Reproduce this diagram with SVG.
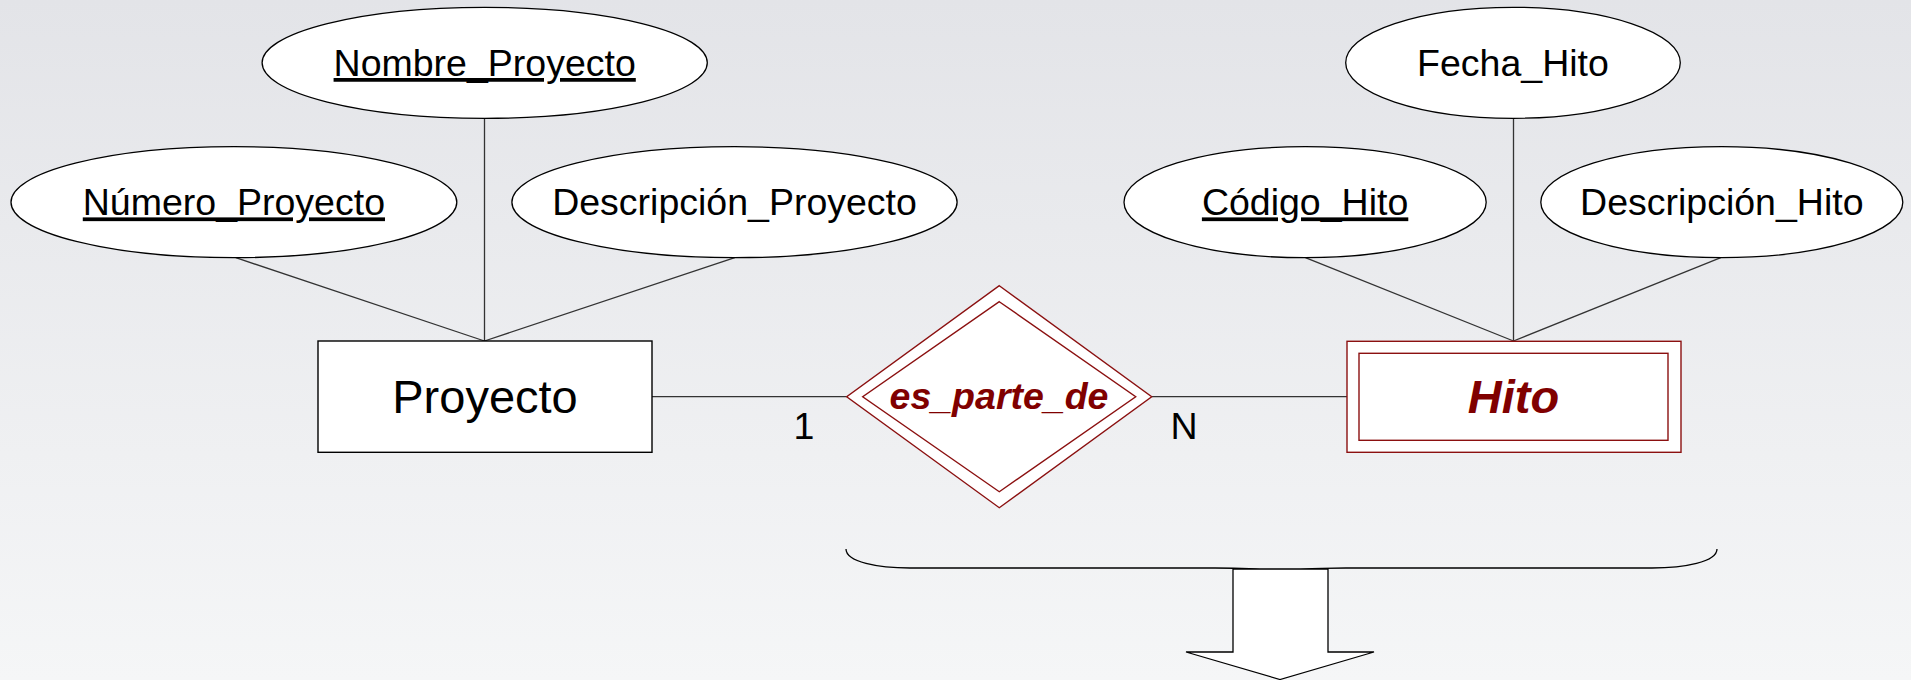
<svg xmlns="http://www.w3.org/2000/svg" width="1911" height="680" viewBox="0 0 1911 680">
<defs>
<linearGradient id="bg" x1="0" y1="0" x2="0" y2="1">
<stop offset="0" stop-color="#e3e4e8"/>
<stop offset="1" stop-color="#f5f6f7"/>
</linearGradient>
</defs>
<style>
.attr{fill:#fff;stroke:#000;stroke-width:1.3}
.t{font-family:"Liberation Sans",Arial,sans-serif;font-size:37.5px;fill:#000;text-anchor:middle}
.u{text-decoration:underline}
.ent{fill:#fff;stroke:#000;stroke-width:1.4}
.wk{fill:#fff;stroke:#8b1010;stroke-width:1.4}
.rt{font-family:"Liberation Sans",Arial,sans-serif;font-weight:bold;font-style:italic;fill:#800000;text-anchor:middle}
.ln{stroke:#333;stroke-width:1.3;fill:none}
</style>
<rect x="0" y="0" width="1911" height="680" fill="url(#bg)"/>
<g id="connectors">
<line class="ln" x1="235.8" y1="257.7" x2="484.5" y2="341"/>
<line class="ln" x1="484.5" y1="118.3" x2="484.5" y2="341"/>
<line class="ln" x1="734.8" y1="257.7" x2="484.5" y2="341"/>
<line class="ln" x1="1305.4" y1="257.7" x2="1513.5" y2="341"/>
<line class="ln" x1="1513.5" y1="118.3" x2="1513.5" y2="341"/>
<line class="ln" x1="1720.8" y1="257.7" x2="1513.5" y2="341"/>
<line class="ln" x1="652" y1="396.7" x2="846.7" y2="396.7"/>
<line class="ln" x1="1151.7" y1="396.7" x2="1347" y2="396.7"/>
</g>
<g id="nombre_proyecto">
<ellipse class="attr" cx="484.7" cy="62.8" rx="222.6" ry="55.5"/>
<text class="t u" x="484.7" y="76">Nombre_Proyecto</text>
</g>
<g id="numero_proyecto">
<ellipse class="attr" cx="233.9" cy="202.2" rx="222.9" ry="55.5"/>
<text class="t u" x="233.9" y="215.4">Número_Proyecto</text>
</g>
<g id="descripcion_proyecto">
<ellipse class="attr" cx="734.5" cy="202.2" rx="222.6" ry="55.5"/>
<text class="t" x="734.5" y="215.4">Descripción_Proyecto</text>
</g>
<g id="fecha_hito">
<ellipse class="attr" cx="1513" cy="62.8" rx="167.3" ry="55.5"/>
<text class="t" x="1513" y="76">Fecha_Hito</text>
</g>
<g id="codigo_hito">
<ellipse class="attr" cx="1305.1" cy="202.2" rx="181.1" ry="55.5"/>
<text class="t u" x="1305.1" y="215.4">Código_Hito</text>
</g>
<g id="descripcion_hito">
<ellipse class="attr" cx="1721.8" cy="202.2" rx="181" ry="55.5"/>
<text class="t" x="1721.8" y="215.4">Descripción_Hito</text>
</g>
<g id="proyecto">
<rect class="ent" x="318" y="341" width="334" height="111.3"/>
<text class="t" x="485" y="413.3" style="font-size:47px">Proyecto</text>
</g>
<g id="es_parte_de">
<polygon class="wk" points="999.3,285.7 1151.7,396.7 999.3,507.7 846.7,396.7"/>
<polygon class="wk" points="999.3,301.7 1135.7,396.7 999.3,491.7 862.7,396.7"/>
<text class="rt" x="999" y="409.3" style="font-size:37.5px">es_parte_de</text>
</g>
<g id="hito">
<rect class="wk" x="1347" y="341.3" width="334" height="111"/>
<rect class="wk" x="1359" y="353.3" width="309" height="87"/>
<text class="rt" x="1513.5" y="412.7" style="font-size:47px">Hito</text>
</g>
<g id="labels">
<text class="t" x="804" y="439">1</text>
<text class="t" x="1184" y="439">N</text>
</g>
<g id="brace">
<path d="M846 549 C846 562 878 568 910 568 L1215 568 C1255 568 1272 570 1280.5 574 C1289 570 1306 568 1346 568 L1652 568 C1684 568 1717 562 1717 549" fill="none" stroke="#000" stroke-width="1.3"/>
</g>
<g id="arrow">
<polygon points="1233,569 1328,569 1328,652 1374,652 1280,679.5 1186,652 1233,652" fill="#fff" stroke="#000" stroke-width="1.3"/>
</g>
</svg>
